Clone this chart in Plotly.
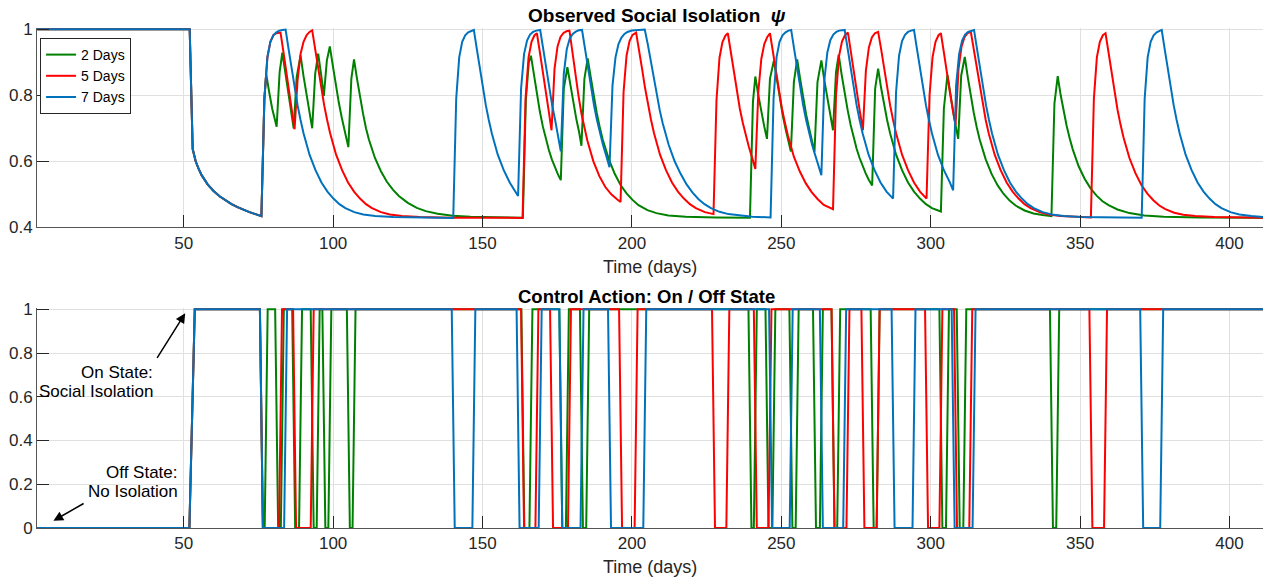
import plotly.graph_objects as go

FONT = "Liberation Sans, Arial, Helvetica, sans-serif"
C_GREEN, C_RED, C_BLUE = "#008000", "#ff0000", "#0072bd"

# ---------------- data ----------------
series_names = ["2 Days", "5 Days", "7 Days"]
x_ticks = [50, 100, 150, 200, 250, 300, 350, 400]
y_ticks_top = [0.4, 0.6, 0.8, 1]
y_ticks_bottom = [0, 0.2, 0.4, 0.6, 0.8, 1]

# shared part of psi (identical for all three policies up to day 76)
common_pts = [(1, 1.0), (52, 1.0), (53, 0.637), (54, 0.600), (55, 0.577), (56, 0.558),
              (58, 0.530), (60, 0.510), (62, 0.494), (64, 0.481), (66, 0.470), (68, 0.461),
              (70, 0.453), (72, 0.446), (74, 0.440), (76, 0.434)]

green_pts = [(77, 0.79), (77.6, 0.865), (78.6, 0.81), (79.6, 0.76), (81.1, 0.705), (82.1, 0.87),
             (83.0, 0.929), (84, 0.865), (85, 0.806), (86, 0.745), (86.8, 0.70), (87.8, 0.855),
             (89.1, 0.921), (90.1, 0.858), (91.1, 0.80), (92.1, 0.745), (93.0, 0.70), (94.0, 0.865),
             (95.0, 0.926), (96.0, 0.862), (96.9, 0.798), (97.9, 0.905), (98.9, 0.948), (99.9, 0.89),
             (100.9, 0.832), (101.9, 0.778), (102.9, 0.732), (103.9, 0.69), (105.1, 0.643),
             (106.1, 0.85), (107.0, 0.909), (108, 0.85), (109, 0.795), (110, 0.745), (111, 0.70),
             (112, 0.665), (114, 0.61), (116, 0.57), (118, 0.538), (120, 0.514), (122, 0.495),
             (125, 0.474), (128, 0.459), (131, 0.449), (135, 0.441), (140, 0.435), (146, 0.432),
             (155, 0.43), (163.5, 0.429), (164.5, 0.785), (165.5, 0.90), (166.2, 0.92), (167.2, 0.86),
             (168.2, 0.80), (169.2, 0.75), (170.2, 0.705), (171.2, 0.667), (172.2, 0.634),
             (173.2, 0.606), (174.2, 0.582), (175.2, 0.561), (176.2, 0.543), (177.2, 0.82),
             (178.4, 0.885), (179.4, 0.83), (180.4, 0.775), (181.4, 0.728), (182.4, 0.685),
             (183.1, 0.647), (184.1, 0.85), (185.2, 0.912), (186.2, 0.856), (187.2, 0.798),
             (188.2, 0.748), (189.2, 0.705), (190.2, 0.667), (192.2, 0.608), (194.2, 0.563),
             (196.2, 0.528), (198.2, 0.503), (200.2, 0.483), (202.2, 0.467), (205.2, 0.452),
             (208.2, 0.443), (212.2, 0.436), (218, 0.432), (228, 0.43), (239.5, 0.429),
             (240.5, 0.78), (241.3, 0.857), (242.3, 0.80), (243.3, 0.75), (244.3, 0.705),
             (245.2, 0.668), (246.2, 0.85), (247.5, 0.905), (248.5, 0.845), (249.5, 0.787),
             (250.5, 0.738), (251.5, 0.695), (252.5, 0.658), (253.2, 0.63), (254.2, 0.84),
             (255.3, 0.909), (256.3, 0.85), (257.3, 0.792), (258.3, 0.742), (259.3, 0.70),
             (260.3, 0.66), (261.1, 0.628), (262.1, 0.84), (263.4, 0.906), (264.4, 0.845),
             (265.4, 0.79), (266.4, 0.74), (267.3, 0.694), (268.3, 0.87), (269.2, 0.923),
             (270.2, 0.862), (271.2, 0.805), (272.2, 0.755), (273.2, 0.71), (274.2, 0.672),
             (275.2, 0.638), (276.2, 0.61), (277.2, 0.585), (278.2, 0.564), (279.2, 0.545),
             (280.4, 0.527), (281.4, 0.82), (282.4, 0.881), (283.4, 0.822), (284.4, 0.77),
             (285.4, 0.725), (286.4, 0.685), (287.4, 0.65), (288.4, 0.62), (290.4, 0.573),
             (292.4, 0.536), (294.4, 0.508), (296.4, 0.487), (298.4, 0.47), (300.4, 0.458),
             (303.4, 0.448), (304.4, 0.76), (305.6, 0.862), (306.6, 0.80), (307.6, 0.745),
             (308.6, 0.695), (309.2, 0.668), (310.2, 0.86), (311.4, 0.916), (312.4, 0.855),
             (313.4, 0.797), (314.4, 0.747), (315.4, 0.703), (316.4, 0.665), (318.4, 0.606),
             (320.4, 0.561), (322.4, 0.527), (324.4, 0.501), (326.4, 0.481), (328.4, 0.466),
             (331.4, 0.451), (334.4, 0.442), (337.4, 0.437), (340.4, 0.434), (341.4, 0.775),
             (342.5, 0.858), (343.5, 0.80), (344.5, 0.75), (345.5, 0.707), (346.5, 0.67),
             (347.5, 0.637), (349.5, 0.585), (351.5, 0.547), (353.5, 0.518), (355.5, 0.496),
             (357.5, 0.479), (359.5, 0.467), (362.5, 0.454), (366.5, 0.443), (371.5, 0.436),
             (378, 0.432), (390, 0.43), (412, 0.429)]

red_pts = [(77, 0.79), (78, 0.915), (79, 0.962), (80, 0.982), (81, 0.988), (82.4, 0.99),
           (83.4, 0.93), (84.4, 0.87), (85.4, 0.81), (86.4, 0.745), (87.1, 0.697), (88.1, 0.845),
           (89.1, 0.925), (90.1, 0.962), (91.1, 0.982), (92.1, 0.992), (93.0, 0.997), (94, 0.94),
           (95, 0.88), (96, 0.822), (97, 0.77), (98, 0.725), (99, 0.685), (101, 0.62), (103, 0.573),
           (105, 0.536), (107, 0.508), (109, 0.487), (111, 0.47), (113, 0.458), (116, 0.446),
           (119, 0.439), (123, 0.434), (129, 0.431), (140, 0.4293), (163.4, 0.4285), (164.4, 0.79),
           (165.4, 0.915), (166.4, 0.962), (167.4, 0.982), (168.2, 0.988), (169.2, 0.93),
           (170.2, 0.865), (171.2, 0.805), (172.2, 0.75), (173.1, 0.694), (174.1, 0.88),
           (175.1, 0.948), (176.1, 0.977), (177.1, 0.989), (178.1, 0.994), (179.1, 0.996),
           (180.1, 0.93), (181.1, 0.86), (182.1, 0.80), (183.1, 0.745), (184.1, 0.70),
           (185.1, 0.662), (187.1, 0.60), (189.1, 0.555), (191.1, 0.522), (193.1, 0.50),
           (195.1, 0.484), (196.2, 0.477), (197.2, 0.81), (198.2, 0.92), (199.2, 0.964),
           (200.2, 0.983), (201.4, 0.99), (202.4, 0.94), (203.4, 0.88), (204.4, 0.822),
           (205.4, 0.77), (206.4, 0.725), (207.4, 0.685), (209.4, 0.62), (211.4, 0.573),
           (213.4, 0.536), (215.4, 0.508), (217.4, 0.487), (219.4, 0.47), (221.4, 0.458),
           (224.4, 0.446), (227.3, 0.44), (228.3, 0.785), (229.3, 0.913), (230.3, 0.961),
           (231.3, 0.981), (232.1, 0.988), (233.1, 0.93), (234.1, 0.87), (235.1, 0.81),
           (236.1, 0.76), (237.1, 0.717), (238.1, 0.678), (239.1, 0.645), (240.1, 0.615),
           (241.3, 0.577), (242.3, 0.81), (243.3, 0.91), (244.3, 0.955), (245.3, 0.977),
           (246.2, 0.988), (247.2, 0.93), (248.2, 0.87), (249.2, 0.81), (250.2, 0.76),
           (251.2, 0.717), (252.2, 0.678), (254.2, 0.614), (256.2, 0.569), (258.2, 0.533),
           (260.2, 0.506), (262.2, 0.485), (264.2, 0.468), (267.3, 0.455), (268.3, 0.80),
           (269.3, 0.918), (270.3, 0.963), (271.3, 0.982), (272.3, 0.99), (273.3, 0.93),
           (274.3, 0.865), (275.3, 0.805), (276.3, 0.75), (277.3, 0.694), (278.3, 0.875),
           (279.3, 0.945), (280.3, 0.975), (281.3, 0.988), (282.4, 0.992), (283.4, 0.94),
           (284.4, 0.88), (285.4, 0.822), (286.4, 0.77), (287.4, 0.725), (288.4, 0.685),
           (290.4, 0.62), (292.4, 0.573), (294.4, 0.536), (296.4, 0.508), (298.6, 0.487),
           (299.6, 0.80), (300.6, 0.915), (301.6, 0.962), (302.6, 0.982), (303.4, 0.988),
           (304.4, 0.93), (305.4, 0.865), (306.4, 0.81), (307.4, 0.755), (308.3, 0.709),
           (309.3, 0.88), (310.3, 0.947), (311.3, 0.976), (312.3, 0.988), (313.4, 0.993),
           (314.4, 0.94), (315.4, 0.88), (316.4, 0.822), (317.4, 0.77), (318.4, 0.725),
           (319.4, 0.685), (321.4, 0.62), (323.4, 0.573), (325.4, 0.536), (327.4, 0.508),
           (329.4, 0.487), (331.4, 0.47), (333.4, 0.458), (336.4, 0.446), (339.4, 0.439),
           (343.4, 0.434), (349.4, 0.431), (353.6, 0.43), (354.6, 0.79), (355.6, 0.915),
           (356.6, 0.962), (357.6, 0.982), (358.5, 0.988), (359.5, 0.93), (360.5, 0.87),
           (361.5, 0.81), (362.5, 0.757), (363.5, 0.712), (364.5, 0.673), (366.5, 0.61),
           (368.5, 0.564), (370.5, 0.528), (372.5, 0.502), (374.5, 0.482), (376.5, 0.466),
           (378.5, 0.455), (381.5, 0.444), (384.5, 0.438), (388.5, 0.434), (395, 0.431),
           (412, 0.429)]

blue_pts = [(77, 0.79), (78, 0.915), (79, 0.962), (80, 0.982), (81, 0.991), (82, 0.996),
            (83, 0.998), (84.1, 0.999), (85.1, 0.94), (86.1, 0.88), (87.1, 0.822), (88.1, 0.77),
            (89.1, 0.725), (90.1, 0.685), (92.1, 0.62), (94.1, 0.573), (96.1, 0.536), (98.1, 0.508),
            (100.1, 0.487), (102.1, 0.47), (104.1, 0.458), (107.1, 0.446), (110.1, 0.439),
            (114.1, 0.434), (120.1, 0.431), (129.1, 0.429), (140.2, 0.4285), (141.2, 0.79),
            (142.2, 0.915), (143.2, 0.962), (144.2, 0.982), (145.2, 0.991), (146.2, 0.996),
            (147.1, 0.998), (148.1, 0.94), (149.1, 0.88), (150.1, 0.822), (151.1, 0.77),
            (152.1, 0.725), (153.1, 0.685), (155.1, 0.62), (157.1, 0.573), (159.1, 0.536),
            (161.9, 0.495), (162.9, 0.82), (163.9, 0.925), (164.9, 0.966), (165.9, 0.984),
            (166.9, 0.992), (168.0, 0.996), (169.3, 0.998), (170.3, 0.94), (171.3, 0.88),
            (172.3, 0.822), (173.3, 0.77), (174.3, 0.725), (175.3, 0.675), (176.2, 0.63),
            (177.2, 0.865), (178.2, 0.94), (179.2, 0.972), (180.2, 0.986), (181.2, 0.993),
            (182.2, 0.997), (183.3, 0.998), (184.3, 0.94), (185.3, 0.88), (186.3, 0.822),
            (187.3, 0.77), (188.3, 0.725), (189.3, 0.685), (190.3, 0.65), (191.3, 0.62),
            (192.5, 0.582), (193.5, 0.83), (194.5, 0.915), (195.5, 0.955), (196.5, 0.975),
            (197.5, 0.986), (198.5, 0.992), (200.0, 0.996), (202.0, 0.998), (204.3, 0.999),
            (205.3, 0.955), (206.3, 0.905), (207.3, 0.85), (208.3, 0.80), (209.3, 0.755),
            (210.3, 0.715), (212.3, 0.65), (214.3, 0.60), (216.3, 0.562), (218.3, 0.53),
            (220.3, 0.505), (222.3, 0.485), (224.3, 0.47), (226.3, 0.459), (229.3, 0.447),
            (232.3, 0.44), (236.3, 0.435), (240.3, 0.432), (246.4, 0.43), (247.4, 0.79),
            (248.4, 0.915), (249.4, 0.962), (250.4, 0.982), (251.4, 0.991), (252.4, 0.996),
            (253.3, 0.998), (254.3, 0.94), (255.3, 0.88), (256.3, 0.822), (257.3, 0.77),
            (258.3, 0.725), (259.3, 0.685), (260.3, 0.65), (261.3, 0.62), (262.3, 0.59),
            (263.4, 0.558), (264.4, 0.845), (265.4, 0.93), (266.4, 0.967), (267.4, 0.984),
            (268.4, 0.992), (269.4, 0.996), (271.2, 0.998), (272.2, 0.94), (273.2, 0.88),
            (274.2, 0.822), (275.2, 0.77), (276.2, 0.725), (277.2, 0.685), (279.2, 0.62),
            (281.2, 0.573), (283.2, 0.536), (285.2, 0.508), (287.4, 0.487), (288.4, 0.81),
            (289.4, 0.92), (290.4, 0.964), (291.4, 0.983), (292.4, 0.992), (293.4, 0.996),
            (294.4, 0.998), (295.4, 0.94), (296.4, 0.88), (297.4, 0.822), (298.4, 0.77),
            (299.4, 0.725), (300.4, 0.685), (302.4, 0.62), (304.4, 0.573), (306.4, 0.536),
            (307.5, 0.512), (308.5, 0.83), (309.5, 0.925), (310.5, 0.966), (311.5, 0.984),
            (312.5, 0.992), (313.5, 0.996), (314.5, 0.998), (315.5, 0.94), (316.5, 0.88),
            (317.5, 0.822), (318.5, 0.77), (319.5, 0.725), (320.5, 0.685), (322.5, 0.62),
            (324.5, 0.573), (326.5, 0.536), (328.5, 0.508), (330.5, 0.487), (332.5, 0.47),
            (334.5, 0.458), (337.5, 0.446), (340.5, 0.439), (344.5, 0.434), (350.5, 0.431),
            (360, 0.4295), (370.6, 0.429), (371.6, 0.79), (372.6, 0.915), (373.6, 0.962),
            (374.6, 0.982), (375.6, 0.991), (376.6, 0.996), (377.3, 0.998), (378.3, 0.94),
            (379.3, 0.88), (380.3, 0.822), (381.3, 0.77), (382.3, 0.725), (383.3, 0.685),
            (385.3, 0.62), (387.3, 0.573), (389.3, 0.536), (391.3, 0.508), (393.3, 0.487),
            (395.3, 0.47), (397.3, 0.458), (400.3, 0.446), (403.3, 0.439), (407.3, 0.434),
            (412, 0.431)]

# control action: first switch to "On" and the later "Off" periods (start, end) in days
control_first_on = 52.8
control_end = 412
green_off = [(76, 77.6), (81.1, 83.0), (86.8, 89.1), (93.0, 95.0), (96.9, 98.9), (105.1, 107.0),
             (163.5, 166.2), (176.2, 178.4), (183.1, 185.2), (239.5, 241.3), (245.2, 247.5),
             (253.2, 255.3), (261.1, 263.4), (267.3, 269.2), (280.4, 282.4), (303.4, 305.6),
             (309.2, 311.4), (340.4, 342.5)]
red_off = [(76, 82.4), (87.1, 93.0), (163.4, 168.2), (173.1, 179.1), (196.2, 201.4),
           (227.3, 232.1), (241.3, 246.2), (267.3, 272.3), (277.3, 282.4), (298.6, 303.4),
           (308.3, 313.4), (353.6, 358.5)]
blue_off = [(76, 84.1), (140.2, 147.1), (161.9, 169.3), (176.2, 183.3), (192.5, 204.3),
            (246.4, 253.3), (263.4, 271.2), (287.4, 294.4), (307.5, 314.5), (370.6, 377.3)]


def psi_xy(pts):
    allp = common_pts + pts
    return [p[0] for p in allp], [p[1] for p in allp]


def control_xy(off):
    t = [1, control_first_on - 0.9, control_first_on + 0.9]
    u = [0, 0, 1]
    for a, b in off:
        t += [a - 0.5, a + 0.5, b - 0.5, b + 0.5]
        u += [1, 0, 0, 1]
    t.append(control_end)
    u.append(1)
    return t, u


fig = go.Figure()
for name, pts, off, col in [(series_names[0], green_pts, green_off, C_GREEN),
                            (series_names[1], red_pts, red_off, C_RED),
                            (series_names[2], blue_pts, blue_off, C_BLUE)]:
    x, y = psi_xy(pts)
    fig.add_trace(go.Scatter(x=x, y=y, mode="lines", name=name,
                             line=dict(color=col, width=2), xaxis="x", yaxis="y"))
    xc, uc = control_xy(off)
    fig.add_trace(go.Scatter(x=xc, y=uc, mode="lines", name=name, showlegend=False,
                             line=dict(color=col, width=2), xaxis="x2", yaxis="y2"))

axis_common = dict(ticks="inside", ticklen=12, tickwidth=1, tickcolor="#262626",
                   showline=True, linecolor="#555555", linewidth=1, mirror=False,
                   showgrid=True, gridcolor="#e0e0e0", gridwidth=1, zeroline=False,
                   tickfont=dict(family=FONT, size=17, color="#262626"))

XR = [0.9, 411.2]
fig.update_layout(
    width=1264, height=581,
    margin=dict(l=37, r=1, t=28, b=53, autoexpand=False),
    paper_bgcolor="white", plot_bgcolor="white",
    font=dict(family=FONT, size=17, color="#262626"),
    xaxis=dict(domain=[0, 1], anchor="y", range=XR, tickvals=x_ticks, **axis_common),
    yaxis=dict(domain=[0.6014, 1], anchor="x", range=[0.4, 1.0039], tickvals=y_ticks_top,
               **axis_common),
    xaxis2=dict(domain=[0, 1], anchor="y2", range=XR, tickvals=x_ticks, **axis_common),
    yaxis2=dict(domain=[0, 0.44], anchor="x2", range=[0, 1.006], tickvals=y_ticks_bottom,
                **axis_common),
    legend=dict(x=0.0025, y=0.98, xanchor="left", yanchor="top", bgcolor="white",
                bordercolor="#262626", borderwidth=1, itemwidth=30, tracegroupgap=0,
                font=dict(family=FONT, size=14, color="#000000")),
    showlegend=True,
)

anns = [
    dict(text="<b>Observed Social Isolation  <i>ψ</i></b>", x=0.5055, y=1.024, xref="paper",
         yref="paper", showarrow=False, font=dict(size=19, color="#000000"),
         xanchor="center", yanchor="middle"),
    dict(text="<b>Control Action: On / Off State</b>", x=0.4975, y=0.464, xref="paper",
         yref="paper", showarrow=False, font=dict(size=18.5, color="#000000"),
         xanchor="center", yanchor="middle"),
    dict(text="Time (days)", x=0.5, y=0.522, xref="paper", yref="paper", showarrow=False,
         font=dict(size=18, color="#262626"), xanchor="center", yanchor="middle"),
    dict(text="Time (days)", x=0.5, y=-0.078, xref="paper", yref="paper", showarrow=False,
         font=dict(size=18, color="#262626"), xanchor="center", yanchor="middle"),
    dict(text="On State:", x=40.5, y=0.713, xref="x2", yref="y2", showarrow=False,
         font=dict(size=17, color="#000000"), xanchor="right", yanchor="middle"),
    dict(text="Social Isolation", x=40.3, y=0.622, xref="x2", yref="y2", showarrow=False,
         font=dict(size=17, color="#000000"), xanchor="right", yanchor="middle"),
    dict(text="Off State:", x=48.6, y=0.256, xref="x2", yref="y2", showarrow=False,
         font=dict(size=17, color="#000000"), xanchor="right", yanchor="middle"),
    dict(text="No Isolation", x=48.6, y=0.165, xref="x2", yref="y2", showarrow=False,
         font=dict(size=17, color="#000000"), xanchor="right", yanchor="middle"),
    dict(text="", x=50.5, y=0.982, ax=40.8, ay=0.771, xref="x2", yref="y2", axref="x2",
         ayref="y2", showarrow=True, arrowhead=2, arrowsize=1.3, arrowwidth=1.5,
         arrowcolor="#000000"),
    dict(text="", x=6.4, y=0.033, ax=17.0, ay=0.116, xref="x2", yref="y2", axref="x2",
         ayref="y2", showarrow=True, arrowhead=2, arrowsize=1.3, arrowwidth=1.5,
         arrowcolor="#000000"),
]
fig.update_layout(annotations=anns)

fig.write_html("out.html", config={"displayModeBar": False})

# remove the browser's default page margin so the figure sits at the window's corner
with open("out.html", "r", encoding="utf-8") as f:
    html = f.read()
html = html.replace("<head>", "<head><style>html,body{margin:0;padding:0;overflow:hidden;}</style>", 1)
with open("out.html", "w", encoding="utf-8") as f:
    f.write(html)
